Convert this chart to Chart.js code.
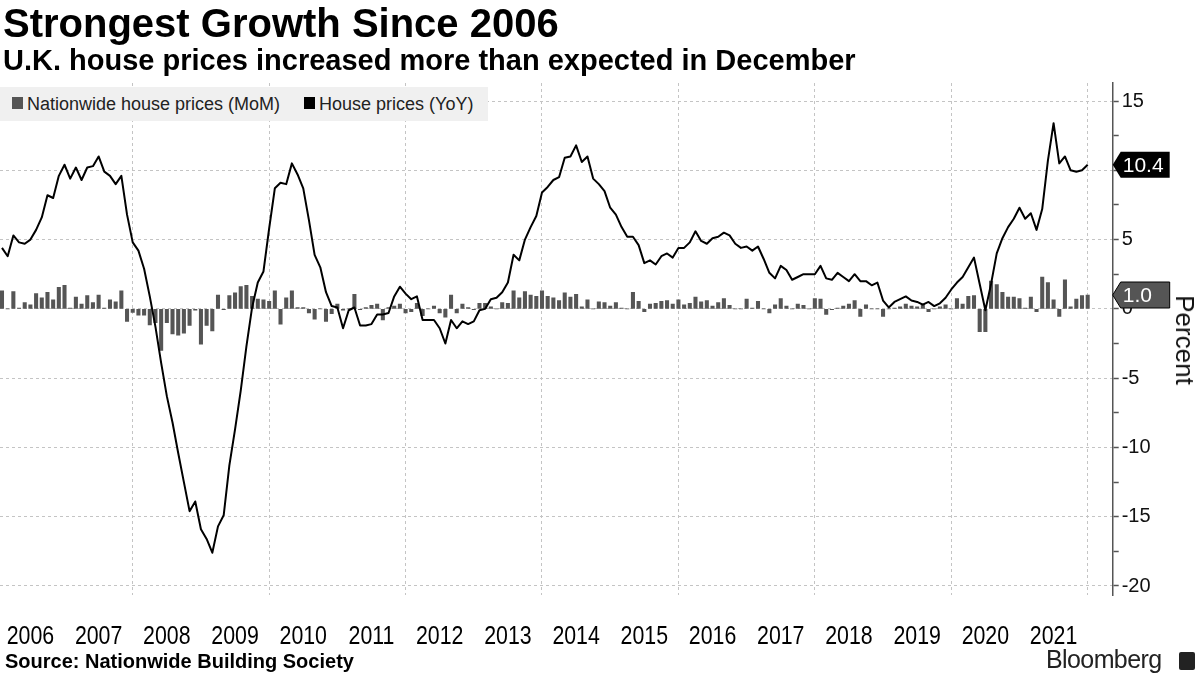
<!DOCTYPE html>
<html><head><meta charset="utf-8">
<script src="https://cdn.jsdelivr.net/npm/chart.js@4.4.1/dist/chart.umd.min.js"></script>
<style>
html,body{margin:0;padding:0;background:#fff;}
#wrap{position:relative;width:1200px;height:675px;overflow:hidden;font-family:"Liberation Sans",Arial,sans-serif;color:#000;}
#c{position:absolute;left:0;top:0;}
.t{position:absolute;white-space:nowrap;}
#title{left:3px;top:0px;font-size:40px;font-weight:bold;line-height:46px;}
#sub{left:3px;top:43px;font-size:29px;font-weight:bold;line-height:34px;}
#src{left:5px;top:650px;font-size:20px;font-weight:bold;line-height:23px;}
#legend{position:absolute;left:0;top:87px;width:488px;height:34px;background:#f0f0f0;font-size:18px;line-height:34px;color:#222;}
#legend .sq{position:absolute;top:10px;width:11px;height:12px;}
#legend .lt{position:absolute;top:0;white-space:nowrap;}
#pct{left:1185px;top:340px;font-size:26px;line-height:30px;transform:translate(-50%,-50%) rotate(90deg);color:#111;}
#bb{left:1046px;top:645px;font-size:25px;line-height:28px;color:#222;letter-spacing:-0.6px;}
#bbi{position:absolute;left:1179px;top:652px;width:16px;height:18px;background:#222;border-radius:2px;}
</style></head>
<body>
<div id="wrap">
<canvas id="c" width="1200" height="675"></canvas>
<div class="t" id="title">Strongest Growth Since 2006</div>
<div class="t" id="sub">U.K. house prices increased more than expected in December</div>
<div id="legend">
  <div class="sq" style="left:12px;background:#555;"></div><div class="lt" style="left:27px;">Nationwide house prices (MoM)</div>
  <div class="sq" style="left:304px;background:#000;"></div><div class="lt" style="left:319px;">House prices (YoY)</div>
</div>
<div class="t" id="pct">Percent</div>
<div class="t" id="src">Source: Nationwide Building Society</div>
<div class="t" id="bb">Bloomberg</div>
<div id="bbi"></div>
</div>
<script>
// Year tick labels
const years = ['2006','2007','2008','2009','2010','2011','2012','2013','2014','2015','2016','2017','2018','2019','2020','2021'];

// House prices (YoY), monthly Jan 2006 - Dec 2021
const yoy = [
  4.4, 3.8, 5.3, 4.8, 4.7, 5.0, 5.7, 6.6, 8.2, 8.0, 9.6, 10.4,
  9.4, 10.2, 9.3, 10.2, 10.3, 11.0, 9.9, 9.6, 9.0, 9.6, 6.8, 4.8,
  4.2, 2.9, 0.9, -1.3, -3.9, -6.3, -8.2, -10.4, -12.5, -14.6, -13.9, -15.9,
  -16.6, -17.6, -15.7, -14.9, -11.3, -8.7, -5.9, -2.7, 0.1, 1.9, 2.7, 5.8,
  8.7, 9.1, 9.0, 10.5, 9.7, 8.7, 6.4, 3.9, 3.0, 1.2, 0.2, 0.1,
  -1.4, -0.1, 0.1, -1.2, -1.2, -1.1, -0.4, -0.4, -0.3, 0.9, 1.6, 1.1,
  0.7, 0.9, -0.8, -0.8, -0.8, -1.4, -2.5, -0.8, -1.4, -0.9, -1.1, -0.9,
  -0.1, 0.0, 0.7, 0.8, 1.2, 1.9, 3.9, 3.5, 5.0, 5.9, 6.7, 8.4,
  8.8, 9.3, 9.5, 10.9, 11.0, 11.8, 10.6, 11.0, 9.4, 9.0, 8.5, 7.3,
  6.8, 5.9, 5.2, 5.2, 4.6, 3.3, 3.5, 3.2, 3.8, 4.0, 3.7, 4.4,
  4.4, 4.8, 5.6, 4.9, 4.7, 5.1, 5.2, 5.5, 5.3, 4.7, 4.4, 4.5,
  4.2, 4.5, 3.6, 2.6, 2.2, 3.1, 2.8, 2.1, 2.3, 2.5, 2.5, 2.5,
  3.1, 2.2, 2.1, 2.6, 2.3, 2.0, 2.5, 2.0, 2.0, 1.7, 1.9, 0.6,
  0.1, 0.5, 0.7, 0.9, 0.6, 0.5, 0.3, 0.5, 0.2, 0.4, 0.8, 1.4,
  1.9, 2.3, 3.0, 3.7, 1.8, -0.1, 1.8, 4.0, 5.1, 5.9, 6.5, 7.3,
  6.5, 6.9, 5.7, 7.2, 10.7, 13.4, 10.5, 11.0, 10.0, 9.9, 10.0, 10.4
];

// Nationwide house prices (MoM), monthly Jan 2006 - Dec 2021
const mom = [
  1.3, 0.0, 1.25, 0.05, 0.45, 0.3, 1.1, 0.8, 1.2, 0.65, 1.55, 1.7,
  0.05, 0.85, 0.35, 0.95, 0.45, 1.0, 0.05, 0.65, 0.5, 1.3, -0.9, -0.25,
  -0.45, -0.45, -1.15, -1.0, -3.0, -1.0, -1.8, -1.9, -1.75, -1.2, -0.1, -2.55,
  -1.2, -1.6, 1.0, -0.05, 0.95, 1.15, 1.6, 1.7, 0.9, 0.7, 0.65, 0.55,
  1.3, -1.1, 0.8, 1.3, 0.1, 0.1, -0.3, -0.75, 0.0, -0.9, -0.35, 0.35,
  -0.1, 0.0, 1.05, -0.05, 0.1, 0.25, 0.35, -0.8, 0.1, 0.2, 0.35, -0.3,
  -0.2, 0.4, -0.5, 0.0, 0.2, -0.3, -0.6, 1.0, -0.3, 0.35, 0.1, -0.05,
  0.4, 0.4, 0.15, 0.0, 0.45, 0.4, 1.3, 0.8, 1.25, 1.0, 0.9, 1.3,
  0.9, 0.8, 0.6, 1.15, 0.85, 1.05, 0.15, 0.65, 0.0, 0.5, 0.45, 0.2,
  0.45, 0.05, 0.0, 1.2, 0.55, -0.2, 0.35, 0.4, 0.55, 0.6, 0.35, 0.65,
  0.3, 0.4, 0.85, 0.5, 0.6, 0.2, 0.45, 0.75, 0.25, 0.0, 0.0, 0.7,
  0.05, 0.55, 0.0, -0.3, 0.3, 0.75, 0.2, 0.0, 0.35, 0.25, 0.0, 0.75,
  0.7, -0.4, -0.05, 0.05, 0.2, 0.35, 0.6, -0.55, 0.3, 0.0, 0.0, -0.55,
  0.0, 0.05, 0.15, 0.35, 0.2, 0.15, 0.35, -0.2, 0.0, 0.15, 0.3, 0.0,
  0.75, 0.35, 0.9, 0.95, -1.65, -1.65, 2.0, 1.75, 1.2, 0.85, 0.85, 0.75,
  0.05, 0.85, -0.2, 2.3, 1.9, 0.65, -0.55, 2.1, 0.15, 0.7, 0.95, 1.0
];

const yTickValues = [-20,-17.5,-15,-12.5,-10,-7.5,-5,-2.5,0,2.5,5,7.5,10,12.5,15];

const X_MIN = 0.65, X_MAX = 196.4;
const GRID = '#c4c4c4';

const valueTags = {
  id: 'valueTags',
  afterDraw(chart) {
    const ctx = chart.ctx, ys = chart.scales.y, x0 = chart.chartArea.right;
    // year labels: tall narrow type, positioned by the xl scale
    const xl = chart.scales.xl;
    ctx.save();
    ctx.fillStyle = '#000';
    ctx.font = '26px "Liberation Sans", Arial, sans-serif';
    ctx.textAlign = 'center'; ctx.textBaseline = 'alphabetic';
    xl.ticks.forEach((t, i) => {
      const px = xl.getPixelForValue(t.value);
      ctx.save();
      ctx.translate(px, 644);
      ctx.scale(0.82, 1);
      ctx.fillText(years[i], 0, 0);
      ctx.restore();
    });
    ctx.restore();

    const tag = (val, fill, stroke) => {
      const py = ys.getPixelForValue(val), h = 26, w = 57;
      ctx.save();
      ctx.beginPath();
      ctx.moveTo(x0, py);
      ctx.lineTo(x0 + 8, py - h / 2);
      ctx.lineTo(x0 + w, py - h / 2);
      ctx.lineTo(x0 + w, py + h / 2);
      ctx.lineTo(x0 + 8, py + h / 2);
      ctx.closePath();
      ctx.fillStyle = fill; ctx.fill();
      if (stroke) { ctx.strokeStyle = stroke; ctx.lineWidth = 1; ctx.stroke(); }
      ctx.fillStyle = '#fff';
      ctx.font = '21px "Liberation Sans", Arial, sans-serif';
      ctx.textBaseline = 'middle'; ctx.textAlign = 'left';
      ctx.fillText(val.toFixed(1), x0 + 10, py + 1);
      ctx.restore();
    };
    tag(yoy[yoy.length - 1], '#000', null);
    tag(mom[mom.length - 1], '#555', '#000');
  }
};

new Chart(document.getElementById('c'), {
  type: 'bar',
  data: {
    datasets: [
      { type: 'line', label: 'House prices (YoY)', data: yoy.map((v, i) => ({ x: i + 1, y: v })),
        borderColor: '#000', borderWidth: 2, pointRadius: 0, tension: 0, order: 0,
        borderJoinStyle: 'round', xAxisID: 'x', yAxisID: 'y' },
      { type: 'bar', label: 'Nationwide house prices (MoM)', data: mom.map((v, i) => ({ x: i + 1, y: v })),
        backgroundColor: '#555', barThickness: 3.4, order: 1, xAxisID: 'x', yAxisID: 'y' }
    ]
  },
  options: {
    responsive: false, animation: false, devicePixelRatio: 1,
    layout: { padding: { top: 83, left: 0, right: 0, bottom: 0 } },
    plugins: { legend: { display: false }, tooltip: { enabled: false }, title: { display: false } },
    scales: {
      x: {
        type: 'linear', position: 'bottom', min: X_MIN, max: X_MAX, offset: false,
        afterBuildTicks: s => { s.ticks = years.filter((y, i) => i % 2 === 0).map((y, i) => ({ value: 24 * (i + 1) })); },
        ticks: { display: false },
        grid: { color: GRID, lineWidth: 1, drawTicks: false, offset: false },
        border: { display: false, dash: [3, 3] },
        afterFit: s => { s.height = 0; }
      },
      xl: {
        type: 'linear', position: 'bottom', min: X_MIN, max: X_MAX, offset: false,
        afterBuildTicks: s => { s.ticks = years.map((y, i) => ({ value: 12 * i + 6 })); },
        ticks: { display: false },
        grid: { display: false, drawTicks: false, offset: false },
        border: { display: false },
        afterFit: s => { s.height = 80; }
      },
      y: {
        type: 'linear', position: 'right', min: -20.65, max: 16.3,
        afterBuildTicks: s => { s.ticks = yTickValues.map(v => ({ value: v })); },
        ticks: { padding: 3, color: '#111',
          font: { family: '"Liberation Sans", Arial, sans-serif', size: 20 },
          callback: v => (v % 5 === 0 ? String(v) : '') },
        grid: { color: c => (c.tick && c.tick.value % 5 === 0 ? GRID : 'rgba(0,0,0,0)'),
          tickColor: '#555', tickLength: 6, tickWidth: 1.5, drawTicks: true },
        border: { display: true, color: '#555', width: 1.5, dash: [3, 3] },
        afterFit: s => { s.width = 87.3; }
      }
    }
  },
  plugins: [valueTags]
});
</script>
</body></html>
